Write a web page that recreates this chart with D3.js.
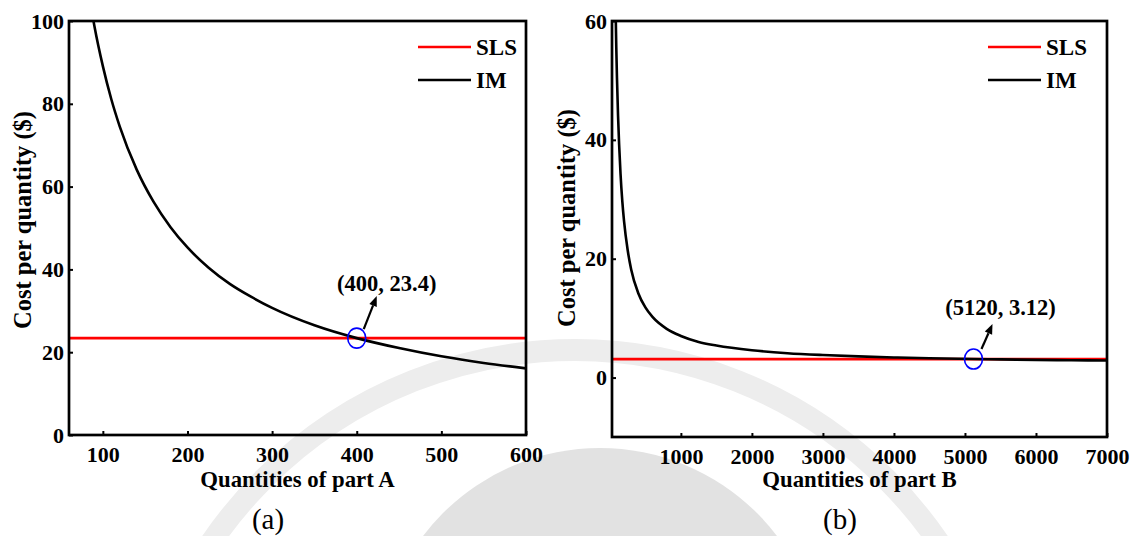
<!DOCTYPE html>
<html>
<head>
<meta charset="utf-8">
<script src="https://cdn.jsdelivr.net/npm/d3@7/dist/d3.min.js"></script>
<style>
  html, body { margin: 0; padding: 0; background: #fff; }
  svg { display: block; }
  text { font-family: "Liberation Serif", "Times New Roman", serif; }
</style>
</head>
<body>
<svg id="chart" width="1134" height="536"></svg>
<script>
// ---- Part A: cost per quantity vs number of parts ----
const qtyA = [85, 90, 100, 110, 120, 140, 160, 180, 200, 225, 250, 275, 300, 350, 400, 450, 500, 550, 600];
const imCostA = [104.6, 98.8, 89.1, 81.1, 74.5, 64.1, 56.3, 50.2, 45.3, 40.4, 36.5, 33.4, 30.7, 26.5, 23.4, 21.0, 19.0, 17.4, 16.1];
const slsCostA = 23.4;
const breakEvenA = [400, 23.4];
const xTicksA = [100, 200, 300, 400, 500, 600];
const yTicksA = [0, 20, 40, 60, 80, 100];

// ---- Part B ----
const qtyB = [80, 90, 100, 115, 130, 150, 175, 200, 250, 300, 400, 500, 600, 800, 1000, 1250, 1500, 2000, 2500, 3000, 3500, 4000, 4500, 5120, 5500, 6000, 6500, 7000];
const imCostB = [62.4, 55.7, 50.4, 44.1, 39.3, 34.3, 29.7, 26.3, 21.5, 18.2, 14.2, 11.8, 10.2, 8.2, 7.0, 6.0, 5.4, 4.6, 4.1, 3.79, 3.56, 3.39, 3.25, 3.12, 3.06, 2.98, 2.92, 2.87];
const slsCostB = 3.12;
const breakEvenB = [5120, 3.12];
const xTicksB = [1000, 2000, 3000, 4000, 5000, 6000, 7000];
const yTicksB = [0, 20, 40, 60];

const seriesNames = ["SLS", "IM"];
const seriesColors = ["#ff0000", "#000000"];

const svg = d3.select("#chart");

// faint emblem watermark behind both panels
const wm = svg.append("g").attr("class", "watermark");
wm.append("circle").attr("cx", 575).attr("cy", 790).attr("r", 440)
  .attr("fill", "none").attr("stroke", "#ededed").attr("stroke-width", 22);
wm.append("circle").attr("cx", 600).attr("cy", 670).attr("r", 222)
  .attr("fill", "#e2e2e2");

const panels = [
  {
    id: "a", box: {x0: 69, x1: 526, y0: 21, y1: 435},
    xDomain: [60, 600], yDomain: [0, 100],
    qty: qtyA, im: imCostA, sls: slsCostA, be: breakEvenA,
    xTicks: xTicksA, yTicks: yTicksA,
    xTitle: "Quantities of part A", letter: "(a)", letterX: 268,
    yTitleX: 31, yTitleY: 220,
    legendX: 418, label: "(400, 23.4)",
    arrow: {sx: 7, sy: -9, tx: 20, ty: -42}, labelDx: 30, labelDy: -47
  },
  {
    id: "b", box: {x0: 612, x1: 1107, y0: 21, y1: 437},
    xDomain: [30, 7000], yDomain: [-10, 60],
    qty: qtyB, im: imCostB, sls: slsCostB, be: breakEvenB,
    xTicks: xTicksB, yTicks: yTicksB,
    xTitle: "Quantities of part B", letter: "(b)", letterX: 840,
    yTitleX: 575, yTitleY: 218,
    legendX: 988, label: "(5120, 3.12)",
    arrow: {sx: 8, sy: -10, tx: 19, ty: -35}, labelDx: 27, labelDy: -44
  }
];

panels.forEach(p => {
  const b = p.box;
  const x = d3.scaleLinear().domain(p.xDomain).range([b.x0, b.x1]);
  const y = d3.scaleLinear().domain(p.yDomain).range([b.y1, b.y0]);
  const g = svg.append("g").attr("class", "panel-" + p.id);

  const clipId = "clip-" + p.id;
  g.append("clipPath").attr("id", clipId)
    .append("rect").attr("x", b.x0).attr("y", b.y0)
    .attr("width", b.x1 - b.x0).attr("height", b.y1 - b.y0);

  // axes with inward ticks
  const xAxis = d3.axisBottom(x).tickValues(p.xTicks).tickFormat(d3.format("d"))
    .tickSizeInner(-4).tickSizeOuter(0).tickPadding(11);
  const gx = g.append("g").attr("transform", `translate(0,${b.y1})`).call(xAxis);
  const yAxis = d3.axisLeft(y).tickValues(p.yTicks).tickFormat(d3.format("d"))
    .tickSizeInner(-4).tickSizeOuter(0).tickPadding(5);
  const gy = g.append("g").attr("transform", `translate(${b.x0},0)`).call(yAxis);
  [gx, gy].forEach(ax => {
    ax.select(".domain").remove();
    ax.selectAll(".tick line").attr("stroke", "#000").attr("stroke-width", 2);
    ax.selectAll(".tick text").attr("fill", "#000")
      .style("font-family", "'Liberation Serif', serif")
      .style("font-weight", "bold").style("font-size", "22px");
  });

  // curves
  const plot = g.append("g").attr("clip-path", `url(#${clipId})`);
  plot.append("line")
    .attr("x1", x(p.xDomain[0])).attr("x2", x(p.xDomain[1]))
    .attr("y1", y(p.sls)).attr("y2", y(p.sls))
    .attr("stroke", seriesColors[0]).attr("stroke-width", 2.7);
  const line = d3.line().x(d => x(d[0])).y(d => y(d[1])).curve(d3.curveMonotoneX);
  plot.append("path")
    .datum(d3.zip(p.qty, p.im))
    .attr("d", line)
    .attr("fill", "none").attr("stroke", seriesColors[1]).attr("stroke-width", 2.6);

  // frame
  g.append("rect").attr("x", b.x0).attr("y", b.y0)
    .attr("width", b.x1 - b.x0).attr("height", b.y1 - b.y0)
    .attr("fill", "none").attr("stroke", "#000").attr("stroke-width", 2.7);

  // legend
  seriesNames.forEach((name, i) => {
    const ly = 47 + i * 33;
    g.append("line").attr("x1", p.legendX).attr("x2", p.legendX + 53)
      .attr("y1", ly).attr("y2", ly)
      .attr("stroke", seriesColors[i]).attr("stroke-width", 2.7);
    g.append("text").attr("x", p.legendX + 58).attr("y", ly).attr("dy", "0.35em")
      .style("font-weight", "bold").style("font-size", "23px").text(name);
  });

  // break-even marker and label
  const cx = x(p.be[0]), cy = y(p.be[1]);
  g.append("ellipse").attr("cx", cx).attr("cy", cy).attr("rx", 9).attr("ry", 10)
    .attr("fill", "none").attr("stroke", "#0000ff").attr("stroke-width", 1.6);
  const a = p.arrow;
  const sx = cx + a.sx, sy = cy + a.sy, tx = cx + a.tx, ty = cy + a.ty;
  const ang = Math.atan2(ty - sy, tx - sx);
  const hl = 10, hw = 4;
  const bx = tx - hl * Math.cos(ang), by = ty - hl * Math.sin(ang);
  g.append("line").attr("x1", sx).attr("y1", sy).attr("x2", bx).attr("y2", by)
    .attr("stroke", "#000").attr("stroke-width", 2.2);
  g.append("path")
    .attr("d", `M${tx},${ty}L${bx + hw * Math.sin(ang)},${by - hw * Math.cos(ang)}L${bx - hw * Math.sin(ang)},${by + hw * Math.cos(ang)}Z`)
    .attr("fill", "#000");
  g.append("text").attr("x", cx + p.labelDx).attr("y", cy + p.labelDy)
    .attr("text-anchor", "middle")
    .style("font-weight", "bold").style("font-size", "22.5px").text(p.label);

  // axis titles
  g.append("text").attr("x", (b.x0 + b.x1) / 2).attr("y", 487)
    .attr("text-anchor", "middle")
    .style("font-weight", "bold").style("font-size", "22.8px").text(p.xTitle);
  g.append("text")
    .attr("transform", `translate(${p.yTitleX},${p.yTitleY}) rotate(-90)`)
    .attr("text-anchor", "middle")
    .style("font-weight", "bold").style("font-size", "24.5px").text("Cost per quantity ($)");
  g.append("text").attr("x", p.letterX).attr("y", 529)
    .attr("text-anchor", "middle")
    .style("font-size", "29px").text(p.letter);
});
</script>
</body>
</html>
